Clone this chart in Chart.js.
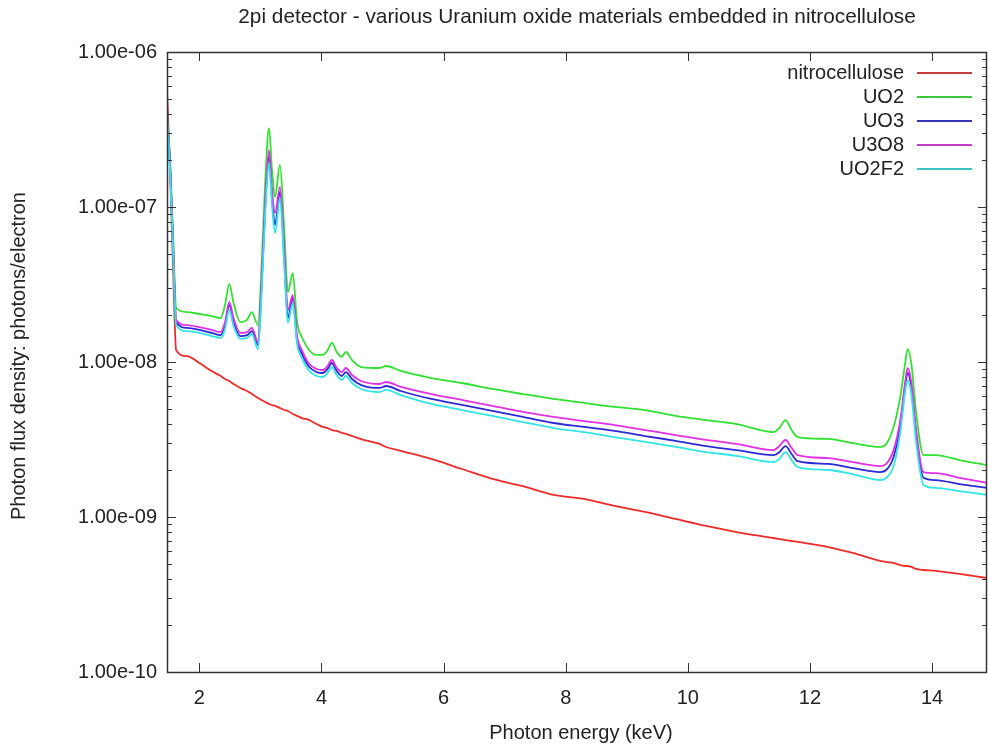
<!DOCTYPE html>
<html>
<head>
<meta charset="utf-8">
<script src="https://cdn.jsdelivr.net/npm/chart.js@4.4.1/dist/chart.umd.min.js"></script>
<style>
  html, body { margin: 0; padding: 0; background: #fff; }
  canvas { display: block; }
</style>
</head>
<body>
<canvas id="chart" width="988" height="746"></canvas>
<script>
// photon energy (keV), shared by all series
const energy = [1.47, 1.52, 1.57, 1.62, 1.8, 2.0, 2.2, 2.35, 2.42, 2.49, 2.56, 2.67, 2.78, 2.86, 2.96, 3.02,
  3.08, 3.14, 3.19, 3.24, 3.32, 3.39, 3.45, 3.53, 3.6, 3.68, 3.8, 3.92, 4.02, 4.1, 4.17, 4.25,
  4.33, 4.4, 4.5, 4.65, 4.95, 5.06, 5.3, 5.8, 6.3, 6.8, 7.3, 7.8, 8.3, 8.8, 9.3, 9.8,
  10.3, 10.8, 11.4, 11.5, 11.6, 11.7, 11.8, 12.3, 12.7, 13.15, 13.25, 13.37, 13.48, 13.56, 13.6, 13.66,
  13.74, 13.86, 14.06, 14.45, 14.9];

const nitrocellulose = [5.69e-7, 1.73e-7, 3.92e-8, 1.19e-8, 1.09e-8, 9.85e-9, 8.75e-9, 8.12e-9,
  7.77e-9, 7.54e-9, 7.21e-9, 6.80e-9, 6.50e-9, 6.21e-9, 5.86e-9, 5.69e-9,
  5.52e-9, 5.36e-9, 5.28e-9, 5.21e-9, 5.05e-9, 4.90e-9, 4.83e-9, 4.62e-9,
  4.49e-9, 4.35e-9, 4.22e-9, 3.98e-9, 3.81e-9, 3.75e-9, 3.64e-9, 3.59e-9,
  3.49e-9, 3.44e-9, 3.33e-9, 3.18e-9, 2.96e-9, 2.83e-9, 2.67e-9, 2.37e-9,
  2.04e-9, 1.76e-9, 1.58e-9, 1.39e-9, 1.31e-9, 1.18e-9, 1.08e-9, 9.71e-10,
  8.75e-10, 8.00e-10, 7.32e-10, 7.21e-10, 7.10e-10, 7.00e-10, 6.90e-10, 6.40e-10,
  5.86e-10, 5.21e-10, 5.13e-10, 5.05e-10, 4.90e-10, 4.83e-10, 4.83e-10, 4.76e-10,
  4.62e-10, 4.55e-10, 4.49e-10, 4.29e-10, 4.04e-10];

const uo2 = [4.04e-7, 2.01e-7, 6.6e-8, 2.23e-8, 2.10e-8, 2.04e-8, 1.98e-8, 1.92e-8,
  2.33e-8, 3.19e-8, 2.40e-8, 1.81e-8, 1.87e-8, 2.10e-8, 1.73e-8, 4.2e-8,
  1.49e-7, 3.23e-7, 1.73e-7, 1.16e-7, 1.87e-7, 7.1e-8, 2.83e-8, 3.75e-8,
  1.81e-8, 1.45e-8, 1.19e-8, 1.11e-8, 1.11e-8, 1.19e-8, 1.33e-8, 1.16e-8,
  1.08e-8, 1.16e-8, 1.03e-8, 9.28e-9, 9.15e-9, 9.42e-9, 8.75e-9, 7.88e-9,
  7.32e-9, 6.70e-9, 6.21e-9, 5.78e-9, 5.44e-9, 5.13e-9, 4.90e-9, 4.49e-9,
  4.22e-9, 3.98e-9, 3.53e-9, 3.75e-9, 4.22e-9, 3.64e-9, 3.28e-9, 3.19e-9,
  3.00e-9, 2.83e-9, 2.96e-9, 3.81e-9, 5.95e-9, 9.85e-9, 1.21e-8, 9.85e-9,
  4.69e-9, 2.51e-9, 2.51e-9, 2.33e-9, 2.16e-9];

const uo3 = [4.04e-7, 1.87e-7, 5.44e-8, 1.81e-8, 1.66e-8, 1.61e-8, 1.54e-8, 1.49e-8,
  1.73e-8, 2.33e-8, 1.81e-8, 1.47e-8, 1.49e-8, 1.58e-8, 1.29e-8, 3.14e-8,
  1.03e-7, 2.13e-7, 1.14e-7, 7.65e-8, 1.25e-7, 4.69e-8, 1.92e-8, 2.59e-8,
  1.39e-8, 1.13e-8, 9.28e-9, 8.61e-9, 8.49e-9, 9.01e-9, 9.85e-9, 8.75e-9,
  8.12e-9, 8.61e-9, 7.77e-9, 7.10e-9, 6.80e-9, 7.00e-9, 6.50e-9, 5.78e-9,
  5.28e-9, 4.83e-9, 4.42e-9, 4.04e-9, 3.81e-9, 3.59e-9, 3.33e-9, 3.10e-9,
  2.87e-9, 2.70e-9, 2.51e-9, 2.62e-9, 2.87e-9, 2.55e-9, 2.29e-9, 2.20e-9,
  2.07e-9, 1.95e-9, 2.01e-9, 2.44e-9, 3.92e-9, 7.00e-9, 8.49e-9, 6.90e-9,
  3.33e-9, 1.79e-9, 1.73e-9, 1.63e-9, 1.54e-9];

const u3o8 = [3.92e-7, 1.87e-7, 5.69e-8, 1.87e-8, 1.73e-8, 1.68e-8, 1.61e-8, 1.56e-8,
  1.81e-8, 2.44e-8, 1.92e-8, 1.54e-8, 1.56e-8, 1.66e-8, 1.35e-8, 3.38e-8,
  1.11e-7, 2.33e-7, 1.29e-7, 9.15e-8, 1.35e-7, 5.28e-8, 2.16e-8, 2.70e-8,
  1.47e-8, 1.19e-8, 9.71e-9, 9.01e-9, 8.88e-9, 9.42e-9, 1.03e-8, 9.15e-9,
  8.61e-9, 9.15e-9, 8.24e-9, 7.54e-9, 7.21e-9, 7.43e-9, 6.90e-9, 6.21e-9,
  5.69e-9, 5.21e-9, 4.76e-9, 4.42e-9, 4.16e-9, 3.92e-9, 3.64e-9, 3.38e-9,
  3.14e-9, 2.96e-9, 2.70e-9, 2.87e-9, 3.14e-9, 2.79e-9, 2.51e-9, 2.40e-9,
  2.26e-9, 2.13e-9, 2.20e-9, 2.70e-9, 4.22e-9, 7.43e-9, 9.15e-9, 7.43e-9,
  3.64e-9, 1.95e-9, 1.92e-9, 1.79e-9, 1.66e-9];

const uo2f2 = [4.04e-7, 1.73e-7, 5.13e-8, 1.73e-8, 1.58e-8, 1.54e-8, 1.47e-8, 1.43e-8,
  1.63e-8, 2.16e-8, 1.71e-8, 1.41e-8, 1.43e-8, 1.52e-8, 1.21e-8, 2.83e-8,
  9.28e-8, 1.92e-7, 1.02e-7, 6.80e-8, 1.14e-7, 4.22e-8, 1.79e-8, 2.40e-8,
  1.31e-8, 1.06e-8, 8.75e-9, 8.12e-9, 8.00e-9, 8.49e-9, 9.28e-9, 8.24e-9,
  7.65e-9, 8.12e-9, 7.32e-9, 6.70e-9, 6.40e-9, 6.60e-9, 6.12e-9, 5.36e-9,
  4.90e-9, 4.49e-9, 4.10e-9, 3.75e-9, 3.53e-9, 3.28e-9, 3.05e-9, 2.83e-9,
  2.62e-9, 2.48e-9, 2.26e-9, 2.37e-9, 2.62e-9, 2.33e-9, 2.10e-9, 2.01e-9,
  1.89e-9, 1.73e-9, 1.79e-9, 2.13e-9, 3.53e-9, 6.40e-9, 7.65e-9, 6.21e-9,
  3.00e-9, 1.61e-9, 1.54e-9, 1.47e-9, 1.39e-9];

const seriesNames = ['nitrocellulose', 'UO2', 'UO3', 'U3O8', 'UO2F2'];
const seriesValues = [nitrocellulose, uo2, uo3, u3o8, uo2f2];
const seriesColors = ['#ee2a2a', '#2fe22f', '#2a2ad6', '#e52fe5', '#2fe5e5'];
const legendColors = ['#c83c3c', '#3cc83c', '#3636b4', '#c43cc4', '#3cc4c4'];

const xTicks = [2, 4, 6, 8, 10, 12, 14];
const yTicks = [1e-10, 1e-9, 1e-8, 1e-7, 1e-6];

const FONT = 'Liberation Sans, Arial, sans-serif';
const TEXT = '#222';

function expLabel(v) {
  const parts = v.toExponential(2).split('e');
  let e = parseInt(parts[1]);
  const sign = e < 0 ? '-' : '+';
  e = Math.abs(e);
  return parts[0] + 'e' + sign + (e < 10 ? '0' + e : e);
}

// gnuplot style frame with inward ticks on all four sides
const frameTicks = {
  id: 'frameTicks',
  afterDraw(chart) {
    const ctx = chart.ctx;
    const a = chart.chartArea;
    const xs = chart.scales.x, ys = chart.scales.y;
    ctx.save();
    ctx.strokeStyle = '#333';
    ctx.lineWidth = 1;
    ctx.beginPath();
    xTicks.forEach(v => {
      const px = Math.round(xs.getPixelForValue(v)) + 0.5;
      ctx.moveTo(px, a.bottom); ctx.lineTo(px, a.bottom - 9);
      ctx.moveTo(px, a.top); ctx.lineTo(px, a.top + 9);
    });
    for (let d = -10; d < -6; d++) {
      for (let m = 1; m <= 9; m++) {
        const v = m * Math.pow(10, d);
        const py = Math.round(ys.getPixelForValue(v)) + 0.5;
        const len = m === 1 ? 9 : 5;
        ctx.moveTo(a.left, py); ctx.lineTo(a.left + len, py);
        ctx.moveTo(a.right, py); ctx.lineTo(a.right - len, py);
      }
    }
    ctx.stroke();
    ctx.lineWidth = 1.5;
    ctx.strokeRect(a.left + 0.5, a.top + 0.5, a.right - a.left - 1, a.bottom - a.top);

    // titles
    ctx.fillStyle = TEXT;
    ctx.textAlign = 'center';
    ctx.textBaseline = 'middle';
    ctx.font = '20.8px ' + FONT;
    ctx.fillText('2pi detector - various Uranium oxide materials embedded in nitrocellulose', (a.left + a.right) / 2, 17);
    ctx.font = '20px ' + FONT;
    ctx.fillText('Photon energy (keV)', (a.left + a.right) / 2 + 4, 733);
    ctx.save();
    ctx.translate(19, (a.top + a.bottom) / 2 - 6);
    ctx.rotate(-Math.PI / 2);
    ctx.fillText('Photon flux density: photons/electron', 0, 0);
    ctx.restore();

    // key, top right
    ctx.textAlign = 'right';
    seriesNames.forEach((name, i) => {
      const y = 73 + i * 24;
      ctx.fillStyle = TEXT;
      ctx.fillText(name, 904, y);
      ctx.strokeStyle = legendColors[i];
      ctx.lineWidth = 2;
      ctx.beginPath();
      ctx.moveTo(917, y); ctx.lineTo(972, y);
      ctx.stroke();
    });
    ctx.restore();
  }
};

new Chart(document.getElementById('chart'), {
  type: 'line',
  data: {
    datasets: seriesNames.map((name, i) => ({
      label: name,
      data: energy.map((e, j) => ({ x: e, y: seriesValues[i][j] })),
      borderColor: seriesColors[i],
      borderWidth: 1.8,
      pointRadius: 0,
      fill: false,
      cubicInterpolationMode: 'monotone',
      order: seriesNames.length - i
    }))
  },
  options: {
    responsive: false,
    animation: false,
    layout: { padding: { top: 52, right: 1, left: 0, bottom: 0 } },
    plugins: { legend: { display: false }, title: { display: false }, tooltip: { enabled: false } },
    scales: {
      x: {
        type: 'linear',
        min: 1.47,
        max: 14.9,
        afterFit(s) { s.height = 74; },
        afterBuildTicks(s) { s.ticks = xTicks.map(v => ({ value: v })); },
        grid: { display: false },
        border: { display: false },
        ticks: { font: { family: FONT, size: 20 }, color: TEXT, padding: 6, maxRotation: 0, autoSkip: false }
      },
      y: {
        type: 'logarithmic',
        min: 1e-10,
        max: 1e-6,
        afterFit(s) { s.width = 167; },
        afterBuildTicks(s) { s.ticks = yTicks.map(v => ({ value: v })); },
        grid: { display: false },
        border: { display: false },
        ticks: { font: { family: FONT, size: 20 }, color: TEXT, padding: 2, autoSkip: false, callback: v => expLabel(v) }
      }
    }
  },
  plugins: [frameTicks]
});
</script>
</body>
</html>
